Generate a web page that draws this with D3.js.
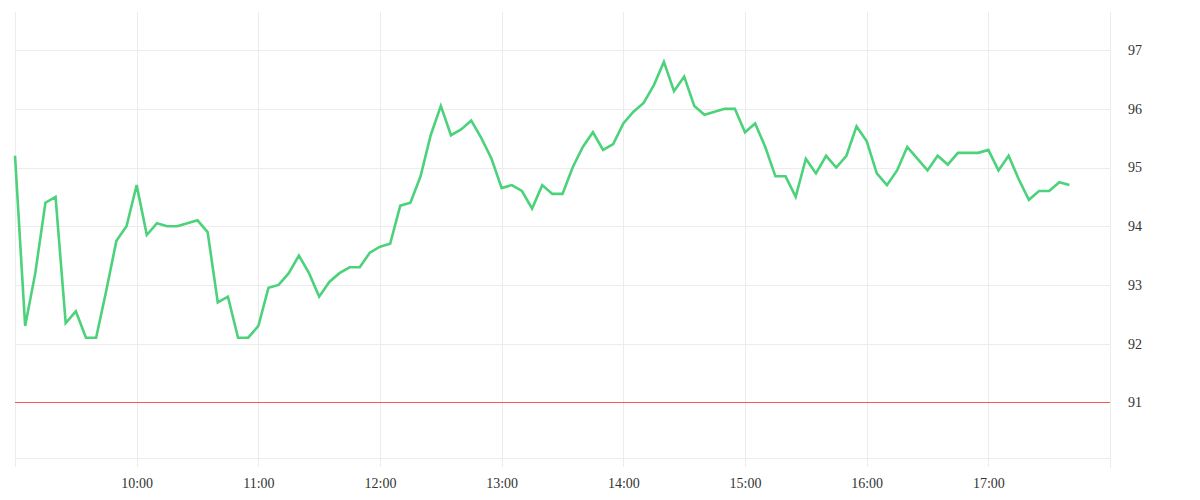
<!DOCTYPE html>
<html>
<head>
<meta charset="utf-8">
<script src="https://cdn.jsdelivr.net/npm/d3@7"></script>
<style>
  html, body { margin: 0; padding: 0; background: #ffffff; }
  svg { display: block; }
</style>
</head>
<body>
<svg id="chart" width="1200" height="500"></svg>
<script>
// ---- data ----
const startTime = "09:00";
const stepMinutes = 5;
const prices = [
  95.2, 92.3, 93.2, 94.4, 94.5, 92.35, 92.55, 92.1, 92.1, 92.9,
  93.75, 94.0, 94.7, 93.85, 94.05, 94.0, 94.0, 94.05, 94.1, 93.9,
  92.7, 92.8, 92.1, 92.1, 92.3, 92.95, 93.0, 93.2, 93.5, 93.2,
  92.8, 93.05, 93.2, 93.3, 93.3, 93.55, 93.65, 93.7, 94.35, 94.4,
  94.85, 95.55, 96.05, 95.55, 95.65, 95.8, 95.5, 95.15, 94.65, 94.7,
  94.6, 94.3, 94.7, 94.55, 94.55, 95.0, 95.35, 95.6, 95.3, 95.4,
  95.75, 95.95, 96.1, 96.4, 96.8, 96.3, 96.55, 96.05, 95.9, 95.95,
  96.0, 96.0, 95.6, 95.75, 95.35, 94.85, 94.85, 94.5, 95.15, 94.9,
  95.2, 95.0, 95.2, 95.7, 95.45, 94.9, 94.7, 94.95, 95.35, 95.15,
  94.95, 95.2, 95.05, 95.25, 95.25, 95.25, 95.3, 94.95, 95.2, 94.8,
  94.45, 94.6, 94.6, 94.75, 94.7
];
const referenceLevel = 91;
const yTickValues = [91, 92, 93, 94, 95, 96, 97];
const xTickLabels = ["09:00","10:00","11:00","12:00","13:00","14:00","15:00","16:00","17:00","18:00"];
const xDomainLabels = ["09:00", "18:00"];
const yDomain = [90.05, 97.65];

// ---- build ----
(function () {
const parse = d3.timeParse("%H:%M");
const t0 = parse(startTime);
const data = prices.map((v, i) => ({ t: d3.timeMinute.offset(t0, i * stepMinutes), v }));

const mLeft = 15, mRight = 1110, mTop = 12, mBottom = 458;
const svg = d3.select("#chart");

const x = d3.scaleTime().domain(xDomainLabels.map(parse)).range([mLeft, mRight]);
const y = d3.scaleLinear().domain(yDomain).range([mBottom, mTop]);

const gridColor = "#ececec";
const fontFam = "'Liberation Serif', 'Times New Roman', serif";

// horizontal grid
svg.append("g").selectAll("line").data(yTickValues).join("line")
  .attr("x1", mLeft).attr("x2", mRight)
  .attr("y1", d => Math.round(y(d)) + 0.5).attr("y2", d => Math.round(y(d)) + 0.5)
  .attr("stroke", gridColor).attr("stroke-width", 1);

// vertical grid (incl. tick extension below)
const xTicks = xTickLabels.map(parse);
svg.append("g").selectAll("line").data(xTicks.slice(0, -1)).join("line")
  .attr("x1", d => Math.round(x(d)) + 0.5).attr("x2", d => Math.round(x(d)) + 0.5)
  .attr("y1", mTop).attr("y2", mBottom + 9)
  .attr("stroke", gridColor).attr("stroke-width", 1);

// bottom line
svg.append("line")
  .attr("x1", mLeft).attr("x2", mRight)
  .attr("y1", mBottom + 0.5).attr("y2", mBottom + 0.5)
  .attr("stroke", gridColor).attr("stroke-width", 1);

// right border
svg.append("line")
  .attr("x1", mRight + 0.5).attr("x2", mRight + 0.5)
  .attr("y1", mTop).attr("y2", mBottom + 10)
  .attr("stroke", gridColor).attr("stroke-width", 1);

// x axis labels
const xAxis = d3.axisBottom(x)
  .tickValues(xTicks.slice(1, -1))
  .tickFormat(d3.timeFormat("%H:%M"))
  .tickSize(0).tickPadding(0);
const gx = svg.append("g").attr("transform", `translate(0,${mBottom})`).call(xAxis);
gx.select(".domain").remove();
gx.selectAll("text")
  .attr("y", 25).attr("dy", "0.35em")
  .attr("fill", "#333").style("font-family", fontFam).style("font-size", "14px");

// y axis labels (right)
const yAxis = d3.axisRight(y).tickValues(yTickValues).tickFormat(d3.format("d")).tickSize(0).tickPadding(0);
const gy = svg.append("g").attr("transform", `translate(${mRight},0)`).call(yAxis);
gy.select(".domain").remove();
gy.selectAll("text")
  .attr("x", 18).attr("text-anchor", "start")
  .attr("fill", "#333").style("font-family", fontFam).style("font-size", "14px");

// reference line
svg.append("line")
  .attr("x1", mLeft).attr("x2", mRight)
  .attr("y1", Math.round(y(referenceLevel)) + 0.5).attr("y2", Math.round(y(referenceLevel)) + 0.5)
  .attr("stroke", "#f4595b").attr("stroke-width", 1);

// price line
svg.append("path")
  .datum(data)
  .attr("fill", "none")
  .attr("stroke", "#4cd27a")
  .attr("stroke-width", 2.6)
  .attr("stroke-linejoin", "miter")
  .attr("d", d3.line().x(d => x(d.t)).y(d => y(d.v)));
})();
</script>
</body>
</html>
